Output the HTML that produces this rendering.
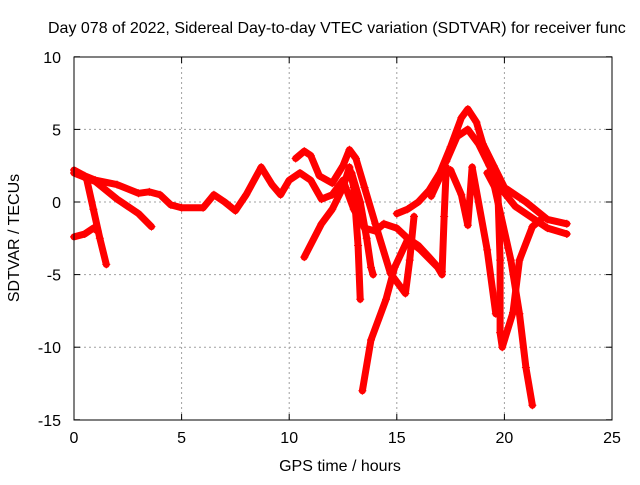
<!DOCTYPE html>
<html><head><meta charset="utf-8"><style>
body{margin:0;background:#fff}
svg text{font-family:"Liberation Sans",sans-serif;font-size:16px;fill:#000}
</style></head><body>
<svg id="c" width="640" height="480" xmlns="http://www.w3.org/2000/svg">
<rect width="640" height="480" fill="#fff"/>
<text x="48" y="33">Day 078 of 2022, Sidereal Day-to-day VTEC variation (SDTVAR) for receiver func</text>
<g id="grid"></g>
<g id="series"></g>
<rect x="74" y="57" width="538" height="363" fill="none" stroke="#000" stroke-width="1"/>
<g id="ticks"></g>
<text x="340" y="471" text-anchor="middle">GPS time / hours</text>
<text transform="translate(19,238) rotate(-90)" text-anchor="middle">SDTVAR / TECUs</text>
</svg>
<script>
const xTicks=[0,5,10,15,20,25];
const yTicks=[-15,-10,-5,0,5,10];
const track1=[[0,2],[1,1.4],[2,0.2],[3,-0.8],[3.6,-1.7]];
const track2=[[0.6,1.5],[0.9,-0.5],[1.2,-2.5],[1.5,-4.3]];
const track3=[[0,-2.4],[0.5,-2.2],[0.9,-1.8],[1.1,-2.0]];
const track4=[[0,2.2],[0.5,1.8],[1,1.5],[2,1.2],[3,0.6],[3.5,0.7],[4,0.5],[4.5,-0.2],[5,-0.4],[6,-0.4],[6.5,0.5],[7,0],[7.5,-0.6],[8,0.5],[8.7,2.4],[9.2,1.2],[9.6,0.5],[10,1.5],[10.5,2],[11,1.5],[11.5,0.2],[12,0.5],[12.5,1.5],[13,-0.5],[13.5,-1.8],[14,-2],[14.4,-1.5],[15,-1.8],[15.5,-2.5],[16,-3],[16.5,-3.8],[17.1,-4.8]];
const track5=[[10.3,3],[10.7,3.5],[11,3.2],[11.4,1.8],[12,1.3],[12.5,2.5],[12.8,3.6],[13.1,3],[13.5,1],[14,-1.5],[14.7,-4.9],[15.4,-6.3],[15.6,-4],[15.8,-1]];
const track6=[[10.7,-3.8],[11.5,-1.5],[12,-0.5],[12.5,1],[12.8,2.4],[13,1],[13.2,-3],[13.3,-6.7]];
const track7=[[12.9,2],[13.3,0],[13.6,-2.5],[13.8,-4.5],[13.9,-5]];
const track8=[[13.4,-13],[13.8,-9.5],[14.5,-6.7],[14.9,-4.5],[15.5,-2.6],[16.1,-3.3],[16.9,-4.5],[17.1,-5],[17.2,-1],[17.3,2.4]];
const track9=[[15,-0.8],[15.5,-0.5],[16,0],[16.5,0.8],[17,2],[17.5,3.8],[18,5.8],[18.3,6.4],[18.7,5.5],[19,4],[19.5,2.5],[20,1],[21,0],[22,-1.2],[22.9,-1.5]];
const track10=[[17.3,2.8],[17.8,4.5],[18.3,5],[18.8,4],[19.3,2.5],[19.8,1],[20.5,-0.3],[21.5,-1.3],[22,-1.8],[22.9,-2.2]];
const track11=[[16.6,0.4],[17.1,2],[17.5,2.2],[18,0.5],[18.3,-1.6],[18.5,2.4],[19.2,-3.3],[19.6,-7.7]];
const track12=[[19.2,2],[19.7,0.6],[19.8,-4],[19.8,-9],[19.9,-10],[20.4,-7.6],[20.7,-4],[21.3,-1.7],[21.7,-1.2]];
const track13=[[19.5,1.3],[20.3,-4],[20.7,-7.7],[21,-11.4],[21.3,-14]];
const tracks=[track1,track2,track3,track4,track5,track6,track7,track8,track9,track10,track11,track12,track13];
const NS="http://www.w3.org/2000/svg";
const X=v=>74+v*(538/25), Y=v=>202-v*(363/25);
const grid=document.getElementById('grid'),ticks=document.getElementById('ticks'),ser=document.getElementById('series');
function mk(t,a,p){const e=document.createElementNS(NS,t);for(const k in a)e.setAttribute(k,a[k]);p.appendChild(e);return e;}
xTicks.forEach(t=>{const x=X(t);
 if(t>0&&t<25){const l=mk('line',{x1:x,x2:x,y1:57,y2:420,stroke:'#a0a0a0','stroke-dasharray':'2,3'},grid);}
 mk('line',{x1:x,x2:x,y1:420,y2:414,stroke:'#000'},ticks);mk('line',{x1:x,x2:x,y1:57,y2:63,stroke:'#000'},ticks);
 const tx=mk('text',{x:x,y:443,'text-anchor':'middle'},ticks);tx.textContent=t;
 });
yTicks.forEach(t=>{const y=Y(t);
 if(t>-15&&t<10){const l=mk('line',{x1:74,x2:612,y1:y,y2:y,stroke:'#a0a0a0','stroke-dasharray':'2,3'},grid);}
 mk('line',{x1:74,x2:80,y1:y,y2:y,stroke:'#000'},ticks);mk('line',{x1:606,x2:612,y1:y,y2:y,stroke:'#000'},ticks);
 const tx=mk('text',{x:61,y:y+6,'text-anchor':'end'},ticks);tx.textContent=t;
 });
tracks.forEach((tr,i)=>{
 const pl=mk('polyline',{points:tr.map(p=>X(p[0])+','+Y(p[1])).join(' '),fill:'none',stroke:'#ff0000','stroke-width':7,'stroke-linejoin':'round','stroke-linecap':'round'},ser);
 
 
 tr.forEach(p=>{const x=X(p[0]),y=Y(p[1]);
  const m=mk('path',{d:`M${x-4},${y}h8M${x},${y-4}v8`,stroke:'#ff0000','stroke-width':1},ser);
  
  });
});
</script>
</body></html>
